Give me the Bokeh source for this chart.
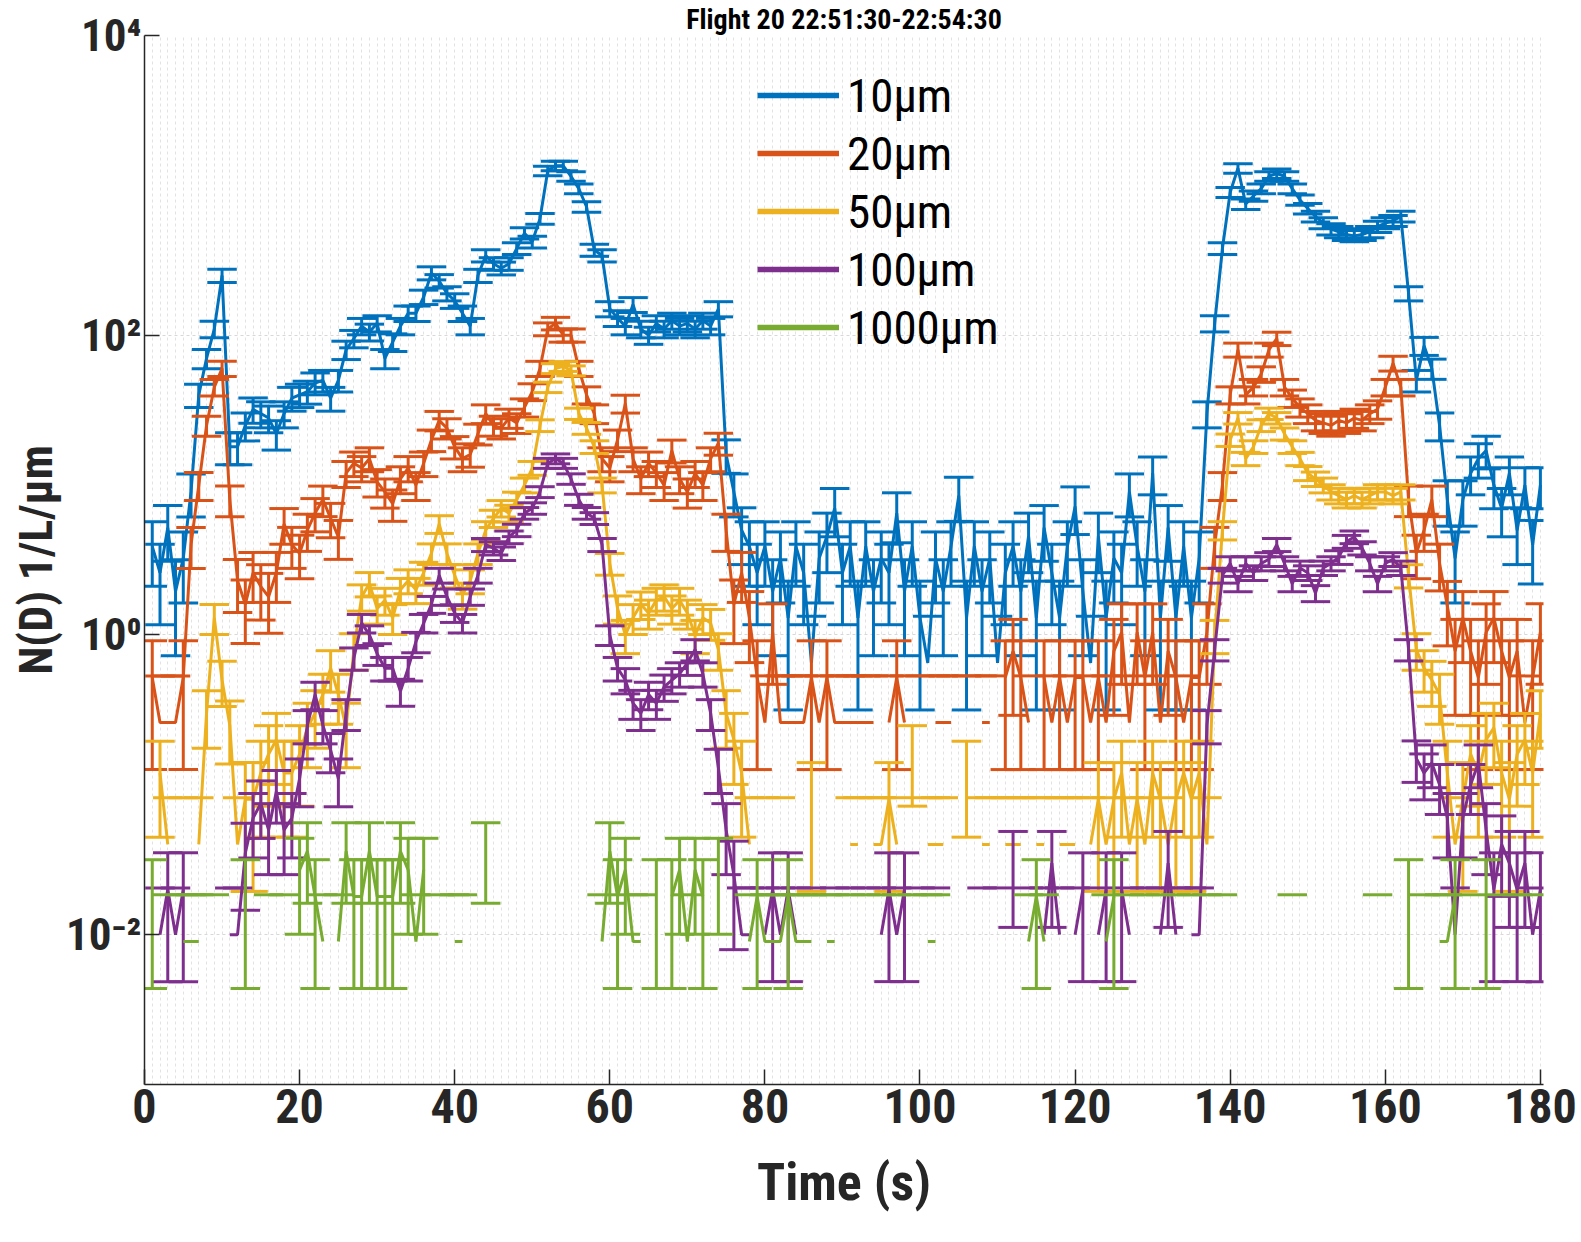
import numpy as np
from bokeh.plotting import figure
from bokeh.models import Range1d, FixedTicker, Legend, LegendItem
from bokeh.embed import file_html
from bokeh.resources import INLINE

# ---------------- data ----------------
time_s = list(range(1, 181))

d10_um = [
    3.9, 2.6, 5.2, 1.95, 3.25, 9, 40, 70, 110, 250,
    18, 18, 25, 32, 30, 28, 22, 30, 38, 40,
    42, 48, 50, 38, 50, 80, 95, 115, 105, 120,
    70, 90, 115, 140, 140, 180, 260, 230, 190, 170,
    140, 115, 250, 340, 300, 280, 300, 380, 480, 420,
    600, 1250, 1350, 1350, 1150, 950, 720, 370, 340, 150,
    130, 115, 160, 110, 100, 120, 110, 125, 115, 120,
    110, 125, 115, 150, 16, 9, 5, 3.9, 2.6, 3.9,
    1.95, 3.25, 1.3, 3.9, 2.6, 0.65, 3.25, 4.55, 7.0, 2.6,
    3.9, 1.3, 3.9, 1.95, 3.25, 2.6, 6.5, 1.95, 3.9, 1.3,
    0.65, 3.25, 1.95, 3.9, 8.5, 1.3, 3.9, 1.95, 3.25, 0.65,
    2.6, 3.9, 1.95, 4.55, 1.3, 5.2, 2.6, 1.3, 3.9, 7.2,
    1.95, 0.65, 4.55, 1.3, 3.25, 2.6, 9.0, 3.9, 1.95, 12.0,
    1.3, 5.2, 1.3, 3.9, 1.3, 3.25, 30, 120, 380, 900,
    1300, 750, 850, 950, 1150, 1200, 1150, 950, 800, 700,
    620, 560, 510, 490, 470, 460, 470, 490, 530, 560,
    580, 620, 190, 50, 85, 60, 25, 8, 3.25, 8,
    12, 15, 17, 10, 7, 12, 5, 10, 4, 10,
]

d20_um = [
    0.52, 0.26, 0.26, 0.26, 0.52, 4, 10, 25, 45, 60,
    8, 2.3, 1.6, 2.6, 2.1, 1.8, 2.6, 5.5, 4, 3.5,
    5, 6.5, 8, 6, 4.5, 12, 14, 13, 15, 10.5,
    9, 7.5, 11, 13, 10, 14, 20, 27, 24, 18,
    15, 16, 22, 30, 25, 24, 28, 26, 33, 42,
    60, 110, 120, 100, 100, 60, 40, 30, 15, 13,
    20, 35, 15, 11, 14, 12, 10, 17, 11, 9,
    12, 10, 15, 19, 5, 1.6, 2.6, 1.3, 0.52, 0.26,
    1.04, 0.26, 0.26, 0.26, 0.26, 0.52, 0.26, 0.52, 0.26, 0.26,
    0.26, 0.26, 0.26, 0.26, None, 0.26, 0.52, 0.26, None, 0.26,
    None, 0.26, 0.26, 0.26, None, 0.26, None, 0.26, 0.26, None,
    0.52, 0.78, 0.52, 0.26, None, 0.52, 0.26, 0.52, 0.26, 0.52,
    0.52, 0.26, 0.52, 0.26, 0.78, 1.04, 0.26, 1.04, 0.52, 1.04,
    0.26, 0.78, 0.52, 0.26, 0.52, 0.52, 1.04, 4, 10, 40,
    80, 40, 45, 55, 80, 95, 45, 38, 33, 30,
    27, 26, 25, 27, 26, 28, 27, 30, 32, 45,
    65, 45, 8, 3.5, 5, 8, 3, 1.56, 0.78, 1.3,
    0.78, 0.52, 1.04, 1.3, 0.78, 0.52, 0.78, 0.26, 0.52, 1.04,
]

d50_um = [
    None, 0.12, 0.04, None, 0.04, None, 0.04, 0.3, 1.3, 0.5,
    0.25, 0.04, 0.08, 0.08, 0.12, 0.16, 0.2, 0.12, 0.12, 0.16,
    0.24, 0.3, 0.4, 0.6, 0.4, 0.24, 0.8, 1.8, 2.2, 1.5,
    1.7, 1.3, 2.0, 2.3, 2.0, 2.6, 3.5, 5.5, 3.5, 2.5,
    1.85, 2.3, 3.5, 5, 6, 7, 6.5, 8, 10, 13,
    25, 45, 60, 62, 58, 30, 24, 18, 10, 3,
    1.5, 1.0, 1.3, 1.6, 1.4, 1.7, 1.8, 1.5, 1.7, 1.4,
    1.0, 1.3, 1.2, 0.8, 0.3, 0.2, 0.12, 0.04, None, 0.04,
    None, 0.04, None, None, None, 0.08, None, None, None, None,
    0.04, 0.04, None, 0.04, 0.04, 0.08, 0.04, None, 0.16, None,
    0.04, 0.04, 0.04, None, None, 0.12, None, 0.04, 0.04, None,
    0.04, 0.04, 0.04, None, 0.04, 0.04, None, 0.04, 0.04, 0.04,
    None, 0.04, 0.08, 0.04, 0.08, 0.12, 0.04, 0.08, 0.04, 0.12,
    0.08, 0.04, 0.08, 0.12, 0.08, 0.12, 0.04, 1.0, 5, 20,
    28, 15, 18, 25, 30, 28, 22, 18, 15, 12,
    11, 10, 9, 8.5, 8, 8.5, 8, 8.5, 9, 9,
    8.5, 9, 2.5, 0.8, 0.6, 0.5, 0.4, 0.12, 0.04, 0.08,
    0.16, 0.12, 0.2, 0.24, 0.12, 0.08, 0.16, 0.2, 0.12, 0.3,
]

d100_um = [
    None, 0.01, 0.02, 0.01, 0.02, None, None, None, None, None,
    0.01, 0.01, 0.035, 0.06, 0.075, 0.05, 0.09, 0.05, 0.06, 0.11,
    0.25, 0.4, 0.25, 0.17, 0.11, 0.3, 0.7, 1.2, 1.0, 0.75,
    0.6, 0.6, 0.42, 0.6, 0.9, 1.2, 1.6, 2.5, 1.8, 1.4,
    1.2, 1.8, 2.5, 4.0, 3.8, 3.5, 4.5, 5, 6.5, 7,
    9, 14, 15, 14, 11, 8, 6.5, 6, 4, 1.0,
    0.6, 0.5, 0.35, 0.3, 0.4, 0.35, 0.45, 0.5, 0.55, 0.65,
    0.8, 0.55, 0.3, 0.13, 0.05, 0.025, 0.01, 0.01, None, 0.01,
    0.02, 0.01, 0.02, 0.01, None, 0.01, None, None, 0.01, None,
    0.01, None, 0.01, None, 0.01, 0.02, 0.01, 0.02, None, 0.01,
    None, 0.01, None, None, None, None, None, 0.01, None, 0.01,
    None, 0.03, None, 0.01, None, 0.01, 0.03, 0.01, None, 0.01,
    0.02, None, 0.01, 0.02, None, 0.02, 0.01, None, 0.01, None,
    0.01, 0.03, 0.01, None, 0.01, 0.01, 0.25, 0.8, 2.5, 3.0,
    2.2, 3.0, 2.6, 3.0, 3.2, 4.0, 3.0, 2.2, 2.8, 2.6,
    1.9, 2.8, 3.0, 3.3, 4.2, 4.5, 3.8, 3.0, 2.2, 3.0,
    3.2, 2.8, 0.8, 0.15, 0.12, 0.14, 0.1, 0.06, 0.01, 0.06,
    0.1, 0.14, 0.05, 0.02, 0.04, 0.03, 0.02, 0.03, 0.01, 0.02,
]

d1000_um = [
    0.018, None, 0.009, None, 0.009, 0.009, 0.009, None, 0.009, None,
    None, None, 0.018, None, None, 0.009, None, 0.009, None, 0.027,
    0.036, 0.018, 0.009, None, 0.009, 0.036, 0.018, 0.018, 0.036, 0.018,
    0.018, 0.018, 0.036, 0.027, 0.009, 0.027, None, 0.009, None, 0.009,
    0.009, None, None, 0.036, None, None, None, None, None, None,
    None, None, None, None, None, None, None, None, 0.009, 0.036,
    0.018, 0.027, 0.009, 0.009, None, 0.018, None, 0.018, 0.027, 0.009,
    0.027, 0.018, None, 0.027, None, None, None, 0.009, 0.018, 0.009,
    0.009, 0.009, 0.018, 0.009, 0.009, 0.009, None, 0.009, 0.009, None,
    0.009, None, 0.009, None, 0.009, None, 0.009, None, 0.009, None,
    0.009, 0.009, None, None, None, None, None, None, None, None,
    None, None, None, 0.009, 0.018, 0.009, None, None, None, None,
    None, None, None, 0.009, 0.018, None, 0.009, None, 0.009, None,
    0.009, None, 0.009, None, 0.009, None, 0.009, None, 0.009, None,
    None, None, None, None, None, None, None, 0.009, None, None,
    None, None, None, None, None, None, None, None, 0.009, None,
    None, None, 0.018, None, 0.009, None, 0.009, 0.009, 0.018, None,
    0.009, None, 0.018, None, 0.009, None, 0.009, None, 0.009, None,
]

series_labels = ["10\u03bcm", "20\u03bcm", "50\u03bcm", "100\u03bcm", "1000\u03bcm"]
series_colors = ["#0072BD", "#D95319", "#EDB120", "#7E2F8E", "#77AC30"]
# N(D) value corresponding to a single counted particle, per size bin
count_unit = [0.65, 0.26, 0.04, 0.010, 0.009]
rel_sys_err = 0.05

x_ticks = [0, 20, 40, 60, 80, 100, 120, 140, 160, 180]
y_ticks = [1e-2, 1e0, 1e2, 1e4]
y_tick_labels = ["10\u207b\u00b2", "10\u2070", "10\u00b2", "10\u2074"]
title_text = "Flight 20 22:51:30-22:54:30"
y_label = "N(D) 1/L/\u03bcm"
x_label = "Time (s)"

# ---------------- figure ----------------
FONT = "'Liberation Sans Narrow', 'Arial Narrow', 'Roboto Condensed', 'DejaVu Sans Condensed', 'Liberation Sans', sans-serif"
INK = "#262626"
CAP = 1.9   # half width of error-bar caps (s)
LW = 3.0

p = figure(width=1581, height=1242, x_range=Range1d(0, 180.4), y_range=Range1d(1e-3, 1e4),
           y_axis_type="log", output_backend="svg", toolbar_location=None,
           min_border_left=144, min_border_right=38, min_border_top=33, min_border_bottom=158)
p.outline_line_color = None
p.background_fill_color = "white"

p.title.text = title_text
p.title.align = "center"
p.title.text_font = FONT
p.title.text_font_style = "bold"
p.title.text_font_size = "28px"
p.title.text_color = "black"
p.title.standoff = 0

# grids
p.xgrid.ticker = FixedTicker(ticks=list(range(0, 181)))
p.xgrid.grid_line_color = "#e2e2e2"
p.xgrid.grid_line_dash = "3 3"
p.xgrid.grid_line_width = 1
p.ygrid.ticker = FixedTicker(ticks=y_ticks)
p.ygrid.grid_line_color = "#d8d8d8"
p.ygrid.grid_line_dash = "3 3"

# axes
for ax in (p.xaxis[0], p.yaxis[0]):
    ax.axis_line_color = INK
    ax.axis_line_width = 1.5
    ax.major_tick_line_color = INK
    ax.major_tick_line_width = 1.5
    ax.major_tick_in = 15
    ax.major_tick_out = 0
    ax.minor_tick_line_color = None
    ax.major_label_text_font = FONT
    ax.major_label_text_font_style = "bold"
    ax.major_label_text_color = INK
    ax.axis_label_text_font = FONT
    ax.axis_label_text_font_style = "bold"
    ax.axis_label_text_color = INK

p.xaxis.ticker = FixedTicker(ticks=x_ticks)
p.xaxis.major_label_text_font_size = "48px"
p.xaxis.major_label_standoff = 4
p.xaxis.axis_label = x_label
p.xaxis.axis_label_text_font_size = "52px"
p.xaxis.axis_label_standoff = 26

p.yaxis.ticker = FixedTicker(ticks=y_ticks)
p.yaxis.major_label_overrides = {tv: lab for tv, lab in zip(y_ticks, y_tick_labels)}
p.yaxis.major_label_text_font_size = "45px"
p.yaxis.major_label_standoff = 3
p.yaxis.axis_label = y_label
p.yaxis.axis_label_text_font_size = "46px"
p.yaxis.axis_label_standoff = 0

# ---------------- series with error bars ----------------
t = np.array(time_s, dtype=float)
legend_items = []
for vals, col, c, lab in zip([d10_um, d20_um, d50_um, d100_um, d1000_um], series_colors, count_unit, series_labels):
    v = np.array([np.nan if x is None else x for x in vals], dtype=float)
    ok = ~np.isnan(v)
    vv = np.where(ok, v, 0.0)
    err = np.sqrt(vv * c) + rel_sys_err * vv
    hi = vv + err
    lo = vv - err
    full = ok & (lo > 0)
    p.segment(x0=t[full], y0=lo[full], x1=t[full], y1=hi[full], line_color=col, line_width=LW)
    p.segment(x0=t[ok] - CAP, y0=hi[ok], x1=t[ok] + CAP, y1=hi[ok], line_color=col, line_width=LW)
    p.segment(x0=t[full] - CAP, y0=lo[full], x1=t[full] + CAP, y1=lo[full], line_color=col, line_width=LW)
    p.line(t, v, line_color=col, line_width=LW)
    # thicker stand-in line used only for the legend swatch (holds no visible point)
    proxy = p.line(x=[np.nan], y=[np.nan], line_color=col, line_width=5.5)
    legend_items.append(LegendItem(label=lab, renderers=[proxy]))

legend = Legend(items=legend_items, location=(613, 728), orientation="vertical",
                label_text_font=FONT, label_text_font_size="47px", label_text_color="black",
                glyph_width=82, glyph_height=58, label_height=58, spacing=0, padding=0, margin=0,
                label_standoff=8, border_line_alpha=0, background_fill_alpha=0)
p.add_layout(legend, "center")

open("out.html", "w").write(file_html(p, INLINE))
